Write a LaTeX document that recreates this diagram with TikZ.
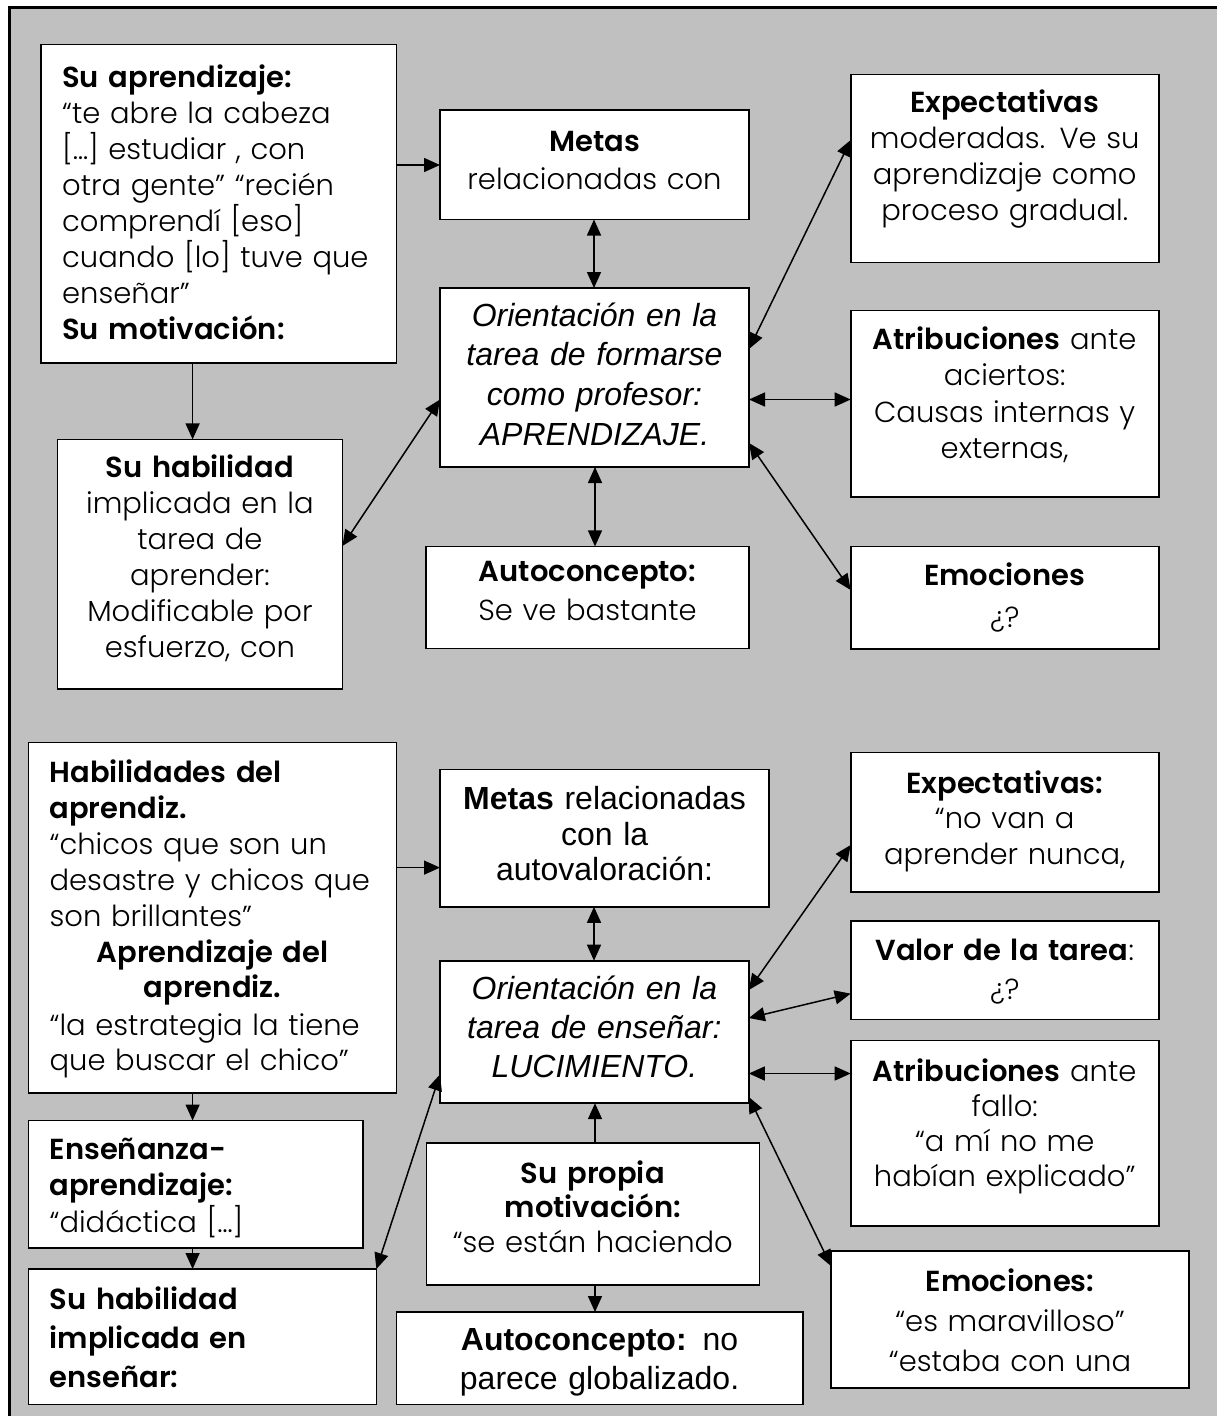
\documentclass[tikz,border=0pt]{standalone}
\usepackage{fontspec}
\usetikzlibrary{arrows.meta}
\newfontfamily\gothic{Poppins}[UprightFont=* Light, BoldFont=* SemiBold]
\newfontfamily\arialf{Liberation Sans}
\definecolor{bggray}{RGB}{192,192,192}

\tikzset{
  panel/.style={draw, line width=1.6pt, fill=white, inner sep=0pt, outer sep=0pt},
  txt/.style={inner sep=0pt, font=\gothic\fontsize{29}{#1}\selectfont},
  ari/.style={inner sep=0pt, font=\arialf\fontsize{32}{#1}\selectfont},
  tip/.style={Triangle[length=16pt,width=14pt]},
  arr/.style={line width=1.5pt, -{Triangle[length=16pt,width=14pt]}},
  darr/.style={line width=1.5pt, {Triangle[length=16pt,width=14pt]}-{Triangle[length=16pt,width=14pt]}},
}

% box from its corners: name, left, top, right, bottom
\newcommand\panelbox[5]{%
  \node[panel, minimum width={(#4)-(#2)}, minimum height={(#5)-(#3)}]
    (#1) at ({((#2)+(#4))/2},{((#3)+(#5))/2}) {};}

\begin{document}
\begin{tikzpicture}[x=1pt, y=-1pt]
\useasboundingbox (0,0) rectangle (1217,1416);
\begin{scope}
\clip (0,0) rectangle (1217,1416);
\fill[bggray] (9,7) rectangle (1230,1430);
\draw[line width=3pt] (1230,7) -- (9,7) -- (9,1430);
\end{scope}

% ---------- upper map: learning to be a teacher ----------
\panelbox{A}{40.7}{44.5}{396.6}{362.7}
\panelbox{metas}{440}{110}{749}{219.5}
\panelbox{orient}{440}{288}{749}{467}
\panelbox{auto}{426}{546.4}{749}{648.3}
\panelbox{hab}{57.3}{439.4}{342.4}{688.7}
\panelbox{expect}{850.7}{74.4}{1158.8}{262.6}
\panelbox{atrib}{850.7}{310.4}{1158.8}{496.8}
\panelbox{emoc}{850.7}{546.4}{1158.8}{648.8}

\node[txt=36, text width=330pt, align=left, anchor=base west] (tA) at (62,87)
  {\textbf{Su aprendizaje:}\\
   “te abre la cabeza\\{}%
   […] estudiar , con\\
   otra gente” “recién\\
   comprendí [eso]\\
   cuando [lo] tuve que\\
   enseñar”\\
   \textbf{Su motivación:}};
\node[txt=36, text width=280pt, align=center, anchor=base] (thab) at (199.9,477)
  {\textbf{Su habilidad}\\ implicada en la\\ tarea de\\ aprender:\\ Modificable por\\ esfuerzo, con};
\node[txt=38, text width=300pt, align=center, anchor=base] (tmetas) at (594.5,151)
  {\textbf{Metas}\\ relacionadas con};
\node[ari=39.7, text width=300pt, align=center, anchor=base] (torient) at (594.5,326)
  {\itshape Orientación en la\\ tarea de formarse\\ como profesor:\\ APRENDIZAJE.};
\node[txt=39, text width=310pt, align=center, anchor=base] (tauto) at (587.5,581)
  {\textbf{Autoconcepto:}\\ Se ve bastante};
\node[txt=36, text width=300pt, align=center, anchor=base] (texpect) at (1004.7,112.5)
  {\textbf{Expectativas}\\ moderadas. Ve su\\ aprendizaje como\\ proceso gradual.};
\node[txt=36.6, text width=300pt, align=center, anchor=base] (tatrib) at (1004.7,349)
  {\textbf{Atribuciones} ante\\ aciertos:\\ Causas internas y\\ externas,};
\node[txt=42, text width=300pt, align=center, anchor=base] (temoc) at (1004.7,585)
  {\textbf{Emociones}\\ ¿?};

\draw[arr] (A.east |- 0,165) -- (metas.west |- 0,165);
\draw[arr] (A.south -| 192.6,0) -- (hab.north -| 192.6,0);
\draw[darr] (metas.south -| 594,0) -- (orient.north -| 594,0);
\draw[darr] (orient.south -| 595,0) -- (auto.north -| 595,0);
\draw[darr] (orient.west |- 0,399.5) -- (hab.east |- 0,546);
\draw[darr] (orient.east |- 0,349) -- (expect.west |- 0,140);
\draw[darr] (orient.east |- 0,399.5) -- (atrib.west |- 0,399.5);
\draw[darr] (orient.east |- 0,443) -- (emoc.west |- 0,590);

% ---------- lower map: teaching ----------
\panelbox{habil}{28.5}{742.5}{396.6}{1092.7}
\panelbox{metasb}{440}{769.4}{769.2}{906.8}
\panelbox{orientb}{440}{960.7}{748.8}{1103.2}
\panelbox{ens}{28.5}{1120.5}{363}{1248}
\panelbox{habb}{28.5}{1269}{376.4}{1404.6}
\panelbox{propia}{426.3}{1143}{759.4}{1285}
\panelbox{autob}{396.6}{1312}{802.7}{1404.6}
\panelbox{expectb}{850.7}{752.5}{1158.8}{891.8}
\panelbox{valor}{850.7}{921}{1158.8}{1019.6}
\panelbox{atribb}{850.7}{1040.6}{1158.8}{1226}
\panelbox{emocb}{831}{1251}{1189}{1388}

\node[txt=36, text width=345pt, align=left, anchor=base west] (thabil1) at (49.4,782)
  {\textbf{Habilidades del}\\ \textbf{aprendiz.}\\ “chicos que son un\\ desastre y chicos que\\ son brillantes”};
\node[txt=34.5, text width=345pt, align=center, anchor=base] (thabil2) at (212.6,962.5)
  {\textbf{Aprendizaje del}\\ \textbf{aprendiz.}};
\node[txt=34.5, text width=345pt, align=left, anchor=base west] (thabil3) at (49.4,1035.6)
  {“la estrategia la tiene\\ que buscar el chico”};
\node[ari=35.5, text width=320pt, align=center, anchor=base] (tmetasb) at (604.6,809.6)
  {\textbf{Metas} relacionadas\\ con la\\ autovaloración:};
\node[ari=39, text width=300pt, align=center, anchor=base] (torientb) at (594.4,999)
  {\itshape Orientación en la\\ tarea de enseñar:\\ LUCIMIENTO.};
\node[txt=36.5, text width=310pt, align=left, anchor=base west] (tens) at (49.4,1159)
  {\textbf{Enseñanza-}\\ \textbf{aprendizaje:}\\ “didáctica […]};
\node[txt=38.7, text width=320pt, align=left, anchor=base west] (thabb) at (49.4,1309.6)
  {\textbf{Su habilidad}\\ \textbf{implicada en}\\ \textbf{enseñar:}};
\node[txt=34.8, text width=320pt, align=center, anchor=base] (tpropia) at (592.8,1183)
  {\textbf{Su propia}\\ \textbf{motivación:}\\ “se están haciendo};
\begin{scope}
\clip ([xshift=1pt,yshift=1pt]autob.south west) rectangle ([xshift=-1pt,yshift=-1pt]autob.north east);
\node[ari=38.8, text width=390pt, align=center, anchor=base] (tautob) at (599.6,1350.7)
  {\textbf{Autoconcepto:} no\\ parece globalizado.};
\end{scope}
\node[txt=35.2, text width=300pt, align=center, anchor=base] (texpectb) at (1004.7,793.6)
  {\textbf{Expectativas:}\\ “no van a\\ aprender nunca,};
\node[txt=39, text width=300pt, align=center, anchor=base] (tvalor) at (1004.7,960)
  {\textbf{Valor de la tarea}:\\ ¿?};
\node[txt=35, text width=300pt, align=center, anchor=base] (tatribb) at (1004.7,1081)
  {\textbf{Atribuciones} ante\\ fallo:\\ “a mí no me\\ habían explicado”};
\node[txt=40, text width=340pt, align=center, anchor=base] (temocb) at (1010,1291)
  {\textbf{Emociones:}\\ “es maravilloso”\\ “estaba con una};

\draw[arr] (habil.east |- 0,867.6) -- (metasb.west |- 0,867.6);
\draw[arr] (habil.south -| 192.6,0) -- (ens.north -| 192.6,0);
\draw[arr] (ens.south -| 192.6,0) -- (habb.north -| 192.6,0);
\draw[darr] (orientb.west |- 0,1074.4) -- (habb.east |- 0,1269);
\draw[darr] (metasb.south -| 594,0) -- (orientb.north -| 594,0);
\draw[arr] (propia.north -| 595,0) -- (orientb.south -| 595,0);
\draw[arr] (propia.south -| 595,0) -- (autob.north -| 595,0);
\draw[darr] (orientb.east |- 0,990) -- (expectb.west |- 0,845);
\draw[darr] (orientb.east |- 0,1018) -- (valor.west |- 0,993.6);
\draw[darr] (orientb.east |- 0,1073.5) -- (atribb.west |- 0,1073.5);
\draw[darr] (orientb.east |- 0,1097) -- (emocb.west |- 0,1266);
\end{tikzpicture}
\end{document}
